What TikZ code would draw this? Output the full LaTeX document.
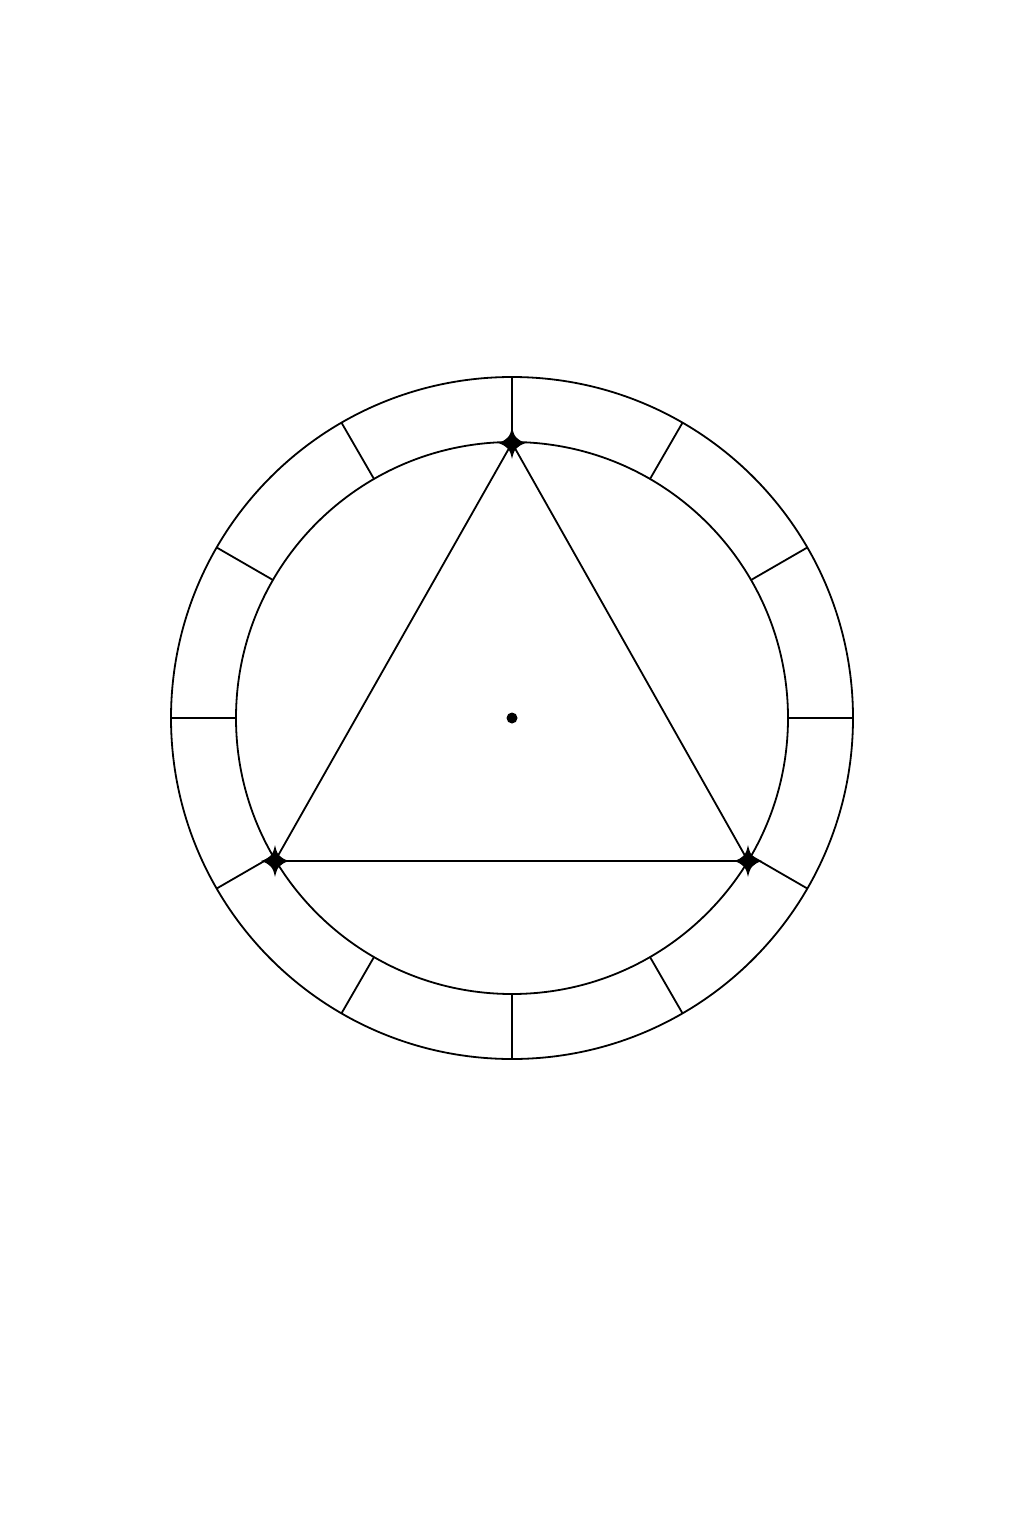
\documentclass[tikz,border=0pt]{standalone}
\usetikzlibrary{calc}
\begin{document}
\begin{tikzpicture}[x=1pt,y=-1pt,
  ring/.style={line width=1.8pt,black},
  tick/.style={line width=1.8pt,black},
  tri/.style={line width=1.8pt,black,line join=round},
  sparkle/.style={fill=black}]
\useasboundingbox (0,0) rectangle (1024,1536);
\fill[white] (0,0) rectangle (1024,1536);
\coordinate (O) at (512,718);
\coordinate (A) at (512,443);
\coordinate (B) at (275,861);
\coordinate (C) at (748,861);
% rings
\draw[ring] (O) circle[radius=341];
\draw[ring] (O) circle[radius=276];
% ticks
\foreach \a in {0,30,...,330}
  \draw[tick] ($(O)+(\a:276)$) -- ($(O)+(\a:341)$);
% triangle
\draw[tri] (A) -- (B) -- (C) -- cycle;
% sparkles
\foreach \p in {A,B,C}
  \fill[sparkle] (\p) ++(0,-16) .. controls +(2,10) and +(-9,-3) .. ++(14,16)
    .. controls +(-9,3) and +(2,-10) .. ++(-14,16)
    .. controls +(-2,-10) and +(9,3) .. ++(-14,-16)
    .. controls +(9,-3) and +(-2,10) .. ++(14,-16) -- cycle;
% centre dot
\fill (O) circle[radius=5.5];
\end{tikzpicture}
\end{document}
